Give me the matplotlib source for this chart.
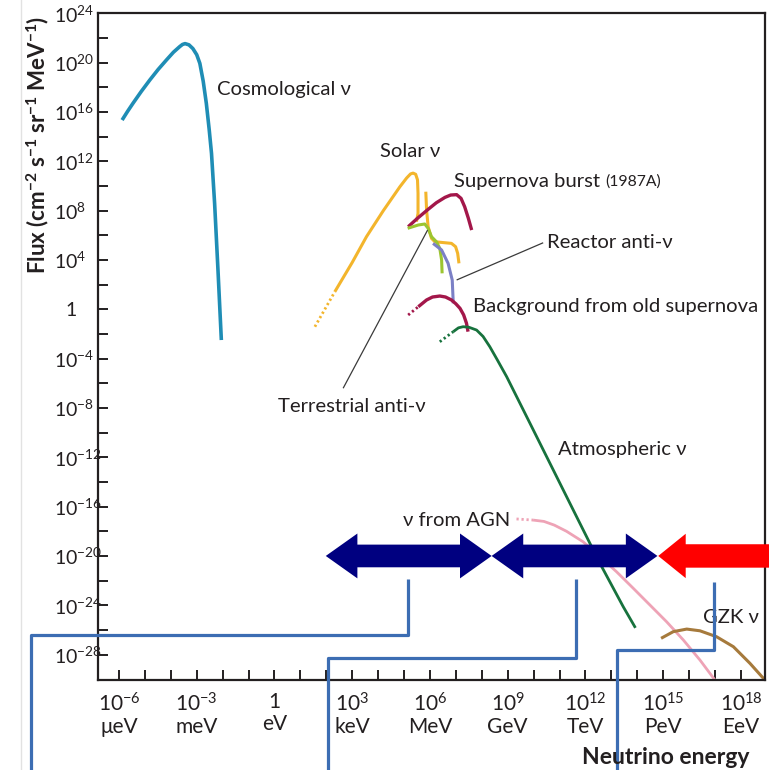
import numpy as np
import matplotlib
matplotlib.use("Agg")
import matplotlib.pyplot as plt
from matplotlib.patches import Polygon
from matplotlib.lines import Line2D
from matplotlib.ticker import FixedLocator, FixedFormatter, NullLocator
from matplotlib.transforms import ScaledTranslation

plt.rcParams["font.family"] = ["Lato", "DejaVu Sans"]
plt.rcParams["mathtext.fontset"] = "custom"
plt.rcParams["mathtext.rm"] = "Lato"
plt.rcParams["mathtext.it"] = "Lato:italic"
plt.rcParams["mathtext.bf"] = "Lato:bold"

# ---- spectra, all values as log10(E / eV) and log10(flux) ----
cosmo_logE = [-5.88, -5.67, -5.46, -5.14, -4.81, -4.49, -4.17, -3.9, -3.66, -3.55, -3.45,
              -3.3, -3.15, -3.0, -2.88, -2.75, -2.63, -2.52, -2.43, -2.31, -2.18, -2.05]
cosmo_logF = [15.35, 16.05, 16.71, 17.67, 18.6, 19.45, 20.22, 20.85, 21.3, 21.48, 21.55,
              21.45, 21.15, 20.65, 19.95, 18.5, 16.71, 14.6, 12.65, 8.6, 3.19, -2.49]

solar_dot_logE = [1.56, 2.33]
solar_dot_logF = [-1.41, 1.43]
solar_logE = [2.33, 3.0, 3.55, 4.2, 4.84, 5.1, 5.25, 5.35, 5.45, 5.52, 5.54, 5.54, 5.48]
solar_logF = [1.43, 3.8, 5.89, 8.0, 9.94, 10.65, 10.98, 11.05, 10.95, 10.5, 9.41, 7.79, 7.11]
solar_line_logE = [5.84, 5.87, 5.93, 6.06, 6.19, 6.83, 6.99, 7.07, 7.12]
solar_line_logF = [9.54, 8.05, 6.70, 5.76, 5.48, 5.35, 5.08, 4.54, 3.73]

sn_burst_logE = [5.16, 5.5, 5.93, 6.25, 6.58, 6.8, 7.03, 7.2, 7.34, 7.48, 7.61]
sn_burst_logF = [6.7, 7.35, 8.11, 8.65, 9.08, 9.27, 9.3, 9.0, 8.32, 7.4, 6.43]

terr_logE = [5.14, 5.55, 5.8, 5.93, 6.06, 6.25, 6.38, 6.45, 6.47]
terr_logF = [6.57, 6.84, 6.92, 6.57, 5.89, 5.48, 4.95, 4.0, 2.92]

reactor_logE = [6.12, 6.45, 6.7, 6.86, 6.9]
reactor_logF = [5.35, 4.81, 3.73, 2.38, 0.49]

bg_dot_logE = [5.16, 5.55]
bg_dot_logF = [-0.46, 0.21]
bg_logE = [5.55, 5.87, 6.1, 6.38, 6.6, 6.83, 7.0, 7.16, 7.3, 7.41, 7.47]
bg_logF = [0.21, 0.76, 1.0, 1.08, 1.0, 0.76, 0.45, 0.08, -0.45, -1.13, -1.81]

atm_dot_logE = [6.38, 6.9]
atm_dot_logF = [-2.63, -1.81]
atm_logE = [6.9, 7.1, 7.28, 7.5, 7.8, 8.05, 8.31, 8.6, 8.96, 9.86, 10.76, 11.66, 12.56, 13.46, 13.93]
atm_logF = [-1.81, -1.5, -1.41, -1.45, -1.68, -2.2, -3.03, -4.1, -5.46, -9.24, -13.03, -16.82, -20.6, -24.12, -25.83]

agn_dot_logE = [9.34, 9.98]
agn_dot_logF = [-17.0, -17.09]
agn_logE = [9.98, 10.4, 10.8, 11.27, 11.91, 12.56, 13.2, 13.85, 14.49, 15.13, 15.78, 16.42, 17.0]
agn_logF = [-17.09, -17.2, -17.5, -18.0, -18.85, -20.06, -21.28, -22.63, -23.98, -25.33, -26.82, -28.44, -30.07]

gzk_logE = [14.92, 15.39, 15.91, 16.42, 17.06, 17.71, 18.35, 18.93]
gzk_logF = [-26.68, -26.14, -25.93, -26.07, -26.55, -27.36, -28.71, -30.07]

# energy-range arrows (log10 E), drawn at flux 1e-20
range_arrows_logE = [(1.98, 8.38), (8.38, 14.78)]
uhe_arrow_logE = (14.81, 19.3)
arrow_logF = -20.0

# detector brackets: (stem energy, stem top, elbow flux, foot energy)
brackets = [(5.15, -21.87, -26.42, -9.41),
            (11.62, -21.87, -28.25, 2.05),
            (16.96, -22.09, -27.63, 13.2)]

x_tick_exps = list(range(-6, 19))
x_label_exps = [-6, -3, 0, 3, 6, 9, 12, 15, 18]
x_units = ["μeV", "meV", "eV", "keV", "MeV", "GeV", "TeV", "PeV", "EeV"]
y_tick_exps = list(range(-28, 25, 2))

C_COSMO = "#1f8db5"
C_SOLAR = "#f3b52c"
C_SN = "#a3174a"
C_TERR = "#9cc530"
C_REACT = "#7b80c6"
C_ATM = "#17723d"
C_AGN = "#eea3b6"
C_GZK = "#a67a3c"
C_TEXT = "#231f20"
C_NAVY = "#000080"
C_BRACKET = "#3c6db3"

fig = plt.figure(figsize=(7.69, 7.70), dpi=100)
ax = fig.add_axes([98 / 769, 90 / 770, 667 / 769, 666.6 / 770])
ax.set_xscale("log")
ax.set_yscale("log")
ax.set_xlim(10.0 ** -6.81, 10.0 ** 18.93)
ax.set_ylim(10.0 ** -30.06, 10.0 ** 24)


def p(le, lf, **kw):
    return ax.plot(10.0 ** np.asarray(le), 10.0 ** np.asarray(lf),
                   solid_capstyle="butt", solid_joinstyle="round", **kw)


dotted = dict(linestyle=(0, (0.8, 1.0)), lw=2.0)
p(cosmo_logE, cosmo_logF, color=C_COSMO, lw=2.6)
p(solar_dot_logE, solar_dot_logF, color=C_SOLAR, **dotted)
p(solar_logE, solar_logF, color=C_SOLAR, lw=2.2)
p(solar_line_logE, solar_line_logF, color=C_SOLAR, lw=2.2)
p(sn_burst_logE, sn_burst_logF, color=C_SN, lw=2.4)
p(terr_logE, terr_logF, color=C_TERR, lw=2.2)
p(reactor_logE, reactor_logF, color=C_REACT, lw=2.2)
p(bg_dot_logE, bg_dot_logF, color=C_SN, **dotted)
p(bg_logE, bg_logF, color=C_SN, lw=2.4)
p(atm_dot_logE, atm_dot_logF, color=C_ATM, **dotted)
p(atm_logE, atm_logF, color=C_ATM, lw=2.0)
p(agn_dot_logE, agn_dot_logF, color=C_AGN, **dotted)
p(agn_logE, agn_logF, color=C_AGN, lw=2.0)
p(gzk_logE, gzk_logF, color=C_GZK, lw=2.2)

# leader lines
p([2.65, 5.91], [-6.4, 6.43], color="#3a3a3a", lw=0.9)
p([7.03, 10.37], [2.38, 5.4], color="#3a3a3a", lw=0.9)

fs = 14.6
def label(le, lf, s, ha="left"):
    return ax.text(10.0 ** le, 10.0 ** lf, s, ha=ha, va="center", fontsize=fs, color=C_TEXT)


label(-2.23, 17.79, "Cosmological ν")
label(4.06, 12.76, "Solar ν")
t_sn = label(6.92, 10.33, "Supernova burst")
ax.annotate("(1987A)", xy=(1, 0.5), xycoords=t_sn, xytext=(4, 0),
            textcoords="offset points", ha="left", va="center",
            fontsize=fs * 0.78, color=C_TEXT)
label(10.51, 5.38, "Reactor anti-ν")
label(7.66, 0.19, "Background from old supernova")
label(0.13, -7.84, "Terrestrial anti-ν")
label(10.94, -11.33, "Atmospheric ν")
label(9.08, -17.09, "ν from AGN", ha="right")
label(16.53, -25.03, "GZK ν")


def arrow_poly(x0, x1, yc, hl, hw, sw, left=True, right=True):
    pts = []
    if left:
        pts += [(x0, yc), (x0 + hl, yc + hw), (x0 + hl, yc + sw)]
    else:
        pts += [(x0, yc + sw)]
    if right:
        pts += [(x1 - hl, yc + sw), (x1 - hl, yc + hw), (x1, yc),
                (x1 - hl, yc - hw), (x1 - hl, yc - sw)]
    else:
        pts += [(x1, yc + sw), (x1, yc - sw)]
    if left:
        pts += [(x0 + hl, yc - sw), (x0 + hl, yc - hw)]
    else:
        pts += [(x0, yc - sw)]
    return 10.0 ** np.asarray(pts, dtype=float)


for x0, x1 in range_arrows_logE:
    ax.add_patch(Polygon(arrow_poly(x0, x1, arrow_logF, 1.22, 1.82, 0.92),
                         closed=True, facecolor=C_NAVY, edgecolor="none", zorder=4))
ax.add_patch(Polygon(arrow_poly(uhe_arrow_logE[0], uhe_arrow_logE[1], arrow_logF, 1.06, 1.8, 0.95,
                                right=False),
                     closed=True, facecolor="#ff0000", edgecolor="none", zorder=4,
                     clip_on=False))

for stem_e, top_f, elbow_f, foot_e in brackets:
    p([stem_e, stem_e, foot_e, foot_e], [top_f, elbow_f, elbow_f, -40],
      color=C_BRACKET, lw=2.3, clip_on=False, zorder=6)

# axes styling
for s in ax.spines.values():
    s.set_linewidth(1.6)
    s.set_color(C_TEXT)

ax.xaxis.set_major_locator(FixedLocator(10.0 ** np.array(x_tick_exps)))
ax.xaxis.set_minor_locator(NullLocator())
xlabels = []
for e in x_tick_exps:
    if e in x_label_exps:
        u = x_units[x_label_exps.index(e)]
        top = "1" if e == 0 else r"$10^{%d}$" % e
        xlabels.append(top + "\n" + u)
    else:
        xlabels.append("")
ax.xaxis.set_major_formatter(FixedFormatter(xlabels))

ax.yaxis.set_major_locator(FixedLocator(10.0 ** np.array(y_tick_exps)))
ax.yaxis.set_minor_locator(NullLocator())
ylabels = []
for e in y_tick_exps:
    if e % 4 == 0:
        ylabels.append("1" if e == 0 else r"$10^{%d}$" % e)
    else:
        ylabels.append("")
ax.yaxis.set_major_formatter(FixedFormatter(ylabels))

ax.tick_params(axis="x", which="both", direction="in", length=7, width=1.4,
               pad=9, labelsize=15, colors=C_TEXT, top=False)
ax.tick_params(axis="y", which="both", direction="in", length=7, width=1.4,
               pad=31.5, labelsize=14, colors=C_TEXT, right=False)
for lab in ax.get_xticklabels():
    lab.set_linespacing(1.1)
for lab in ax.get_yticklabels():
    lab.set_horizontalalignment("left")
    if lab.get_text() == "1":
        lab.set_transform(lab.get_transform() + ScaledTranslation(11 / 100, 0, fig.dpi_scale_trans))

fig.text(38 / 769, 1 - 145 / 770,
         r"Flux (cm$^{\mathbf{-2}}$ s$^{\mathbf{-1}}$ sr$^{\mathbf{-1}}$ MeV$^{\mathbf{-1}}$)",
         rotation=90, ha="center", va="center", fontsize=16, fontweight="bold", color=C_TEXT)
fig.text(750 / 769, 1 - 757 / 770, "Neutrino energy", ha="right", va="center",
         fontsize=16.5, fontweight="bold", color=C_TEXT)

fig.add_artist(Line2D([21 / 769, 21 / 769], [0, 1], color="#e2e2e2", lw=1.0))

fig.savefig("out.png", dpi=100)
